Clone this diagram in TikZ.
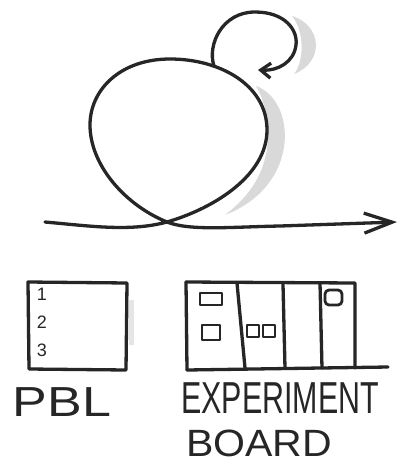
\documentclass[tikz,border=0pt]{standalone}
\usepackage{fontspec}
\setmainfont{Liberation Sans}
\usetikzlibrary{arrows.meta}
\begin{document}
\begin{tikzpicture}[x=1pt,y=-1pt,
  ink/.style={line width=3.3pt, line cap=round, line join=round, black!85},
  thin ink/.style={line width=2.8pt, line cap=round, line join=round, black!85},
  shade/.style={fill=gray!30, draw=none},
  label/.style={inner sep=0pt, anchor=base, font=\fontsize{40}{40}\selectfont, text=black!85},
  num/.style={inner sep=0pt, font=\fontsize{18}{18}\selectfont, text=black!85}]
\useasboundingbox (0,0) rectangle (401,464);
% shadows
\path[shade] (256,86) .. controls (296,100) and (302,185) .. (225,215)
   .. controls (255,192) and (269,165) .. (268,130) .. controls (267,112) and (263,98) .. (256,86) -- cycle;
\path[shade] (292,16) .. controls (322,25) and (325,62) .. (294,74)
   .. controls (304,62) and (305,32) .. (292,16) -- cycle;
\path[shade, fill=gray!20] (129,300) rectangle (134,345);
% big loop with arrow
\draw[ink, -{Straight Barb[length=28pt,width=20pt]}] (45,222) .. controls (90,226) and (130,232) .. (167,222)
  .. controls (215,208) and (267,175) .. (267,130)
  .. controls (267,85) and (220,59) .. (170,59)
  .. controls (120,59) and (90,90) .. (90,125)
  .. controls (90,165) and (125,205) .. (167,222)
  .. controls (190,231) and (230,227) .. (280,226) -- (397,222);
% small loop with arrow
\draw[ink, -{Straight Barb[length=10pt,width=15pt]}] (214,66) .. controls (207,45) and (222,12) .. (255,12)
  .. controls (285,12) and (298,30) .. (296,45)
  .. controls (294,62) and (278,71) .. (258,70);
% PBL board
\draw[ink] (28,282) -- (127,283) -- (126,370) -- (29,369) -- cycle;
\node[num] (n1) at (42,294) {1};
\node[num] (n2) at (42,322) {2};
\node[num] (n3) at (42,350) {3};
\node[label] (pbl) at (62,416) {\scalebox{1.3}[1.05]{PBL}};
% Experiment board
\draw[ink] (186,282) -- (355,283) -- (355,368);
\draw[ink] (186,282) -- (187,370);
\draw[ink] (187,370) -- (388,367);
\draw[ink] (237,283) -- (245,368);
\draw[ink] (283,284) -- (285,368);
\draw[ink] (320,283) -- (322,368);
% stickies
\draw[thin ink] (200,293) rectangle (222,305);
\draw[thin ink] (202,325) rectangle (220,340);
\draw[thin ink] (247,325) rectangle (259,337);
\draw[thin ink] (263,325) rectangle (275,337);
\draw[thin ink, rounded corners=4pt] (325,290) rectangle (342,305);
\node[label] (exp) at (280,413) {\scalebox{0.76}[1.12]{EXPERIMENT}};
\node[label, font=\fontsize{38}{38}\selectfont] (board) at (259,456) {\scalebox{1.08}[1]{BOARD}};
\end{tikzpicture}
\end{document}
